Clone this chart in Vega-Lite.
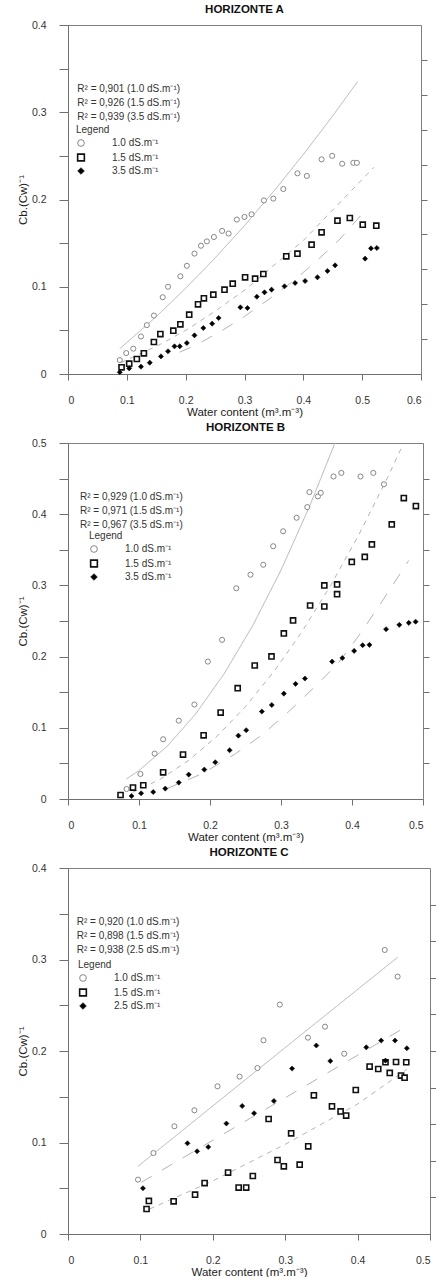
{
  "$schema": "https://vega.github.io/schema/vega-lite/v6.json",
  "padding": {"left": 16, "top": 3, "right": 0, "bottom": 0},
  "spacing": 2,
  "config": {
    "font": "Liberation Sans",
    "view": {"stroke": "#808080", "strokeWidth": 1},
    "axis": {"grid": false, "domainColor": "#707070", "tickColor": "#707070", "labelColor": "#333", "labelFontSize": 10.5, "titleFontSize": 11.5, "titleFontWeight": "normal", "titleColor": "#222", "labelFont": "Liberation Sans", "titleFont": "Liberation Sans"},
    "legend": {"symbolSize": 45, "labelFontSize": 10, "titleFontSize": 10, "titleFontWeight": "normal", "labelColor": "#333", "titleColor": "#333", "rowPadding": 1.5, "titlePadding": 3, "labelOffset": 26, "padding": 0, "labelFont": "Liberation Sans", "titleFont": "Liberation Sans"},
    "title": {"fontSize": 11.5, "fontWeight": "bold", "color": "#111", "offset": 4.5, "font": "Liberation Sans"}
  },
  "datasets": {
    "ptsA": [
      {"x":0.088,"y":0.016,"s":"1.0"},{"x":0.099,"y":0.024,"s":"1.0"},{"x":0.111,"y":0.029,"s":"1.0"},{"x":0.124,"y":0.043,"s":"1.0"},{"x":0.134,"y":0.056,"s":"1.0"},{"x":0.146,"y":0.067,"s":"1.0"},{"x":0.161,"y":0.088,"s":"1.0"},{"x":0.170,"y":0.100,"s":"1.0"},{"x":0.191,"y":0.112,"s":"1.0"},{"x":0.202,"y":0.124,"s":"1.0"},{"x":0.215,"y":0.138,"s":"1.0"},{"x":0.226,"y":0.147,"s":"1.0"},{"x":0.236,"y":0.152,"s":"1.0"},{"x":0.248,"y":0.157,"s":"1.0"},{"x":0.262,"y":0.164,"s":"1.0"},{"x":0.273,"y":0.161,"s":"1.0"},{"x":0.287,"y":0.177,"s":"1.0"},{"x":0.300,"y":0.180,"s":"1.0"},{"x":0.312,"y":0.183,"s":"1.0"},{"x":0.333,"y":0.199,"s":"1.0"},{"x":0.349,"y":0.201,"s":"1.0"},{"x":0.366,"y":0.212,"s":"1.0"},{"x":0.390,"y":0.230,"s":"1.0"},{"x":0.406,"y":0.227,"s":"1.0"},{"x":0.431,"y":0.246,"s":"1.0"},{"x":0.449,"y":0.250,"s":"1.0"},{"x":0.466,"y":0.241,"s":"1.0"},{"x":0.485,"y":0.242,"s":"1.0"},{"x":0.491,"y":0.242,"s":"1.0"},
      {"x":0.091,"y":0.0076,"s":"1.5"},{"x":0.104,"y":0.0118,"s":"1.5"},{"x":0.117,"y":0.0172,"s":"1.5"},{"x":0.129,"y":0.0237,"s":"1.5"},{"x":0.146,"y":0.0367,"s":"1.5"},{"x":0.157,"y":0.0458,"s":"1.5"},{"x":0.179,"y":0.0497,"s":"1.5"},{"x":0.191,"y":0.0569,"s":"1.5"},{"x":0.206,"y":0.068,"s":"1.5"},{"x":0.221,"y":0.0798,"s":"1.5"},{"x":0.231,"y":0.0867,"s":"1.5"},{"x":0.247,"y":0.0909,"s":"1.5"},{"x":0.266,"y":0.0967,"s":"1.5"},{"x":0.280,"y":0.1035,"s":"1.5"},{"x":0.301,"y":0.1108,"s":"1.5"},{"x":0.318,"y":0.1093,"s":"1.5"},{"x":0.332,"y":0.1146,"s":"1.5"},{"x":0.371,"y":0.1349,"s":"1.5"},{"x":0.390,"y":0.1379,"s":"1.5"},{"x":0.414,"y":0.1482,"s":"1.5"},{"x":0.431,"y":0.1624,"s":"1.5"},{"x":0.458,"y":0.1757,"s":"1.5"},{"x":0.479,"y":0.1788,"s":"1.5"},{"x":0.501,"y":0.1712,"s":"1.5"},{"x":0.524,"y":0.170,"s":"1.5"},
      {"x":0.088,"y":0.002,"s":"3.5"},{"x":0.104,"y":0.0065,"s":"3.5"},{"x":0.124,"y":0.0084,"s":"3.5"},{"x":0.139,"y":0.013,"s":"3.5"},{"x":0.158,"y":0.0202,"s":"3.5"},{"x":0.170,"y":0.026,"s":"3.5"},{"x":0.181,"y":0.0317,"s":"3.5"},{"x":0.190,"y":0.0317,"s":"3.5"},{"x":0.202,"y":0.0355,"s":"3.5"},{"x":0.215,"y":0.0443,"s":"3.5"},{"x":0.230,"y":0.0527,"s":"3.5"},{"x":0.245,"y":0.0577,"s":"3.5"},{"x":0.256,"y":0.0642,"s":"3.5"},{"x":0.293,"y":0.0764,"s":"3.5"},{"x":0.305,"y":0.0756,"s":"3.5"},{"x":0.321,"y":0.0886,"s":"3.5"},{"x":0.334,"y":0.0936,"s":"3.5"},{"x":0.346,"y":0.0967,"s":"3.5"},{"x":0.368,"y":0.1005,"s":"3.5"},{"x":0.386,"y":0.1043,"s":"3.5"},{"x":0.403,"y":0.1066,"s":"3.5"},{"x":0.424,"y":0.1108,"s":"3.5"},{"x":0.441,"y":0.1181,"s":"3.5"},{"x":0.454,"y":0.1245,"s":"3.5"},{"x":0.505,"y":0.1322,"s":"3.5"},{"x":0.515,"y":0.144,"s":"3.5"},{"x":0.525,"y":0.1444,"s":"3.5"}
    ],
    "fitA": [
      {"x":0.088,"y":0.029,"s":"1.0"},{"x":0.15,"y":0.0658,"s":"1.0"},{"x":0.2,"y":0.0982,"s":"1.0"},{"x":0.25,"y":0.133,"s":"1.0"},{"x":0.3,"y":0.1701,"s":"1.0"},{"x":0.35,"y":0.2097,"s":"1.0"},{"x":0.4,"y":0.2516,"s":"1.0"},{"x":0.45,"y":0.2959,"s":"1.0"},{"x":0.492,"y":0.335,"s":"1.0"},
      {"x":0.09,"y":0.013,"s":"1.5"},{"x":0.157,"y":0.034,"s":"1.5"},{"x":0.205,"y":0.052,"s":"1.5"},{"x":0.25,"y":0.072,"s":"1.5"},{"x":0.302,"y":0.097,"s":"1.5"},{"x":0.342,"y":0.12,"s":"1.5"},{"x":0.4,"y":0.153,"s":"1.5"},{"x":0.45,"y":0.188,"s":"1.5"},{"x":0.52,"y":0.237,"s":"1.5"},
      {"x":0.19,"y":0.025,"s":"3.5"},{"x":0.22,"y":0.034,"s":"3.5"},{"x":0.26,"y":0.049,"s":"3.5"},{"x":0.3,"y":0.066,"s":"3.5"},{"x":0.34,"y":0.085,"s":"3.5"},{"x":0.38,"y":0.105,"s":"3.5"},{"x":0.42,"y":0.128,"s":"3.5"},{"x":0.46,"y":0.153,"s":"3.5"},{"x":0.51,"y":0.191,"s":"3.5"}
    ],
    "ptsB": [
      {"x":0.0825,"y":0.0141,"s":"1.0"},{"x":0.102,"y":0.0351,"s":"1.0"},{"x":0.122,"y":0.0638,"s":"1.0"},{"x":0.134,"y":0.0839,"s":"1.0"},{"x":0.156,"y":0.110,"s":"1.0"},{"x":0.178,"y":0.1327,"s":"1.0"},{"x":0.197,"y":0.193,"s":"1.0"},{"x":0.217,"y":0.2235,"s":"1.0"},{"x":0.237,"y":0.296,"s":"1.0"},{"x":0.257,"y":0.315,"s":"1.0"},{"x":0.275,"y":0.329,"s":"1.0"},{"x":0.289,"y":0.355,"s":"1.0"},{"x":0.303,"y":0.376,"s":"1.0"},{"x":0.322,"y":0.395,"s":"1.0"},{"x":0.337,"y":0.410,"s":"1.0"},{"x":0.340,"y":0.431,"s":"1.0"},{"x":0.352,"y":0.425,"s":"1.0"},{"x":0.356,"y":0.430,"s":"1.0"},{"x":0.374,"y":0.453,"s":"1.0"},{"x":0.385,"y":0.458,"s":"1.0"},{"x":0.412,"y":0.453,"s":"1.0"},{"x":0.430,"y":0.458,"s":"1.0"},{"x":0.445,"y":0.442,"s":"1.0"},
      {"x":0.074,"y":0.0056,"s":"1.5"},{"x":0.0915,"y":0.016,"s":"1.5"},{"x":0.106,"y":0.0193,"s":"1.5"},{"x":0.134,"y":0.0375,"s":"1.5"},{"x":0.162,"y":0.0624,"s":"1.5"},{"x":0.191,"y":0.0895,"s":"1.5"},{"x":0.215,"y":0.1214,"s":"1.5"},{"x":0.239,"y":0.1556,"s":"1.5"},{"x":0.263,"y":0.1875,"s":"1.5"},{"x":0.2866,"y":0.2002,"s":"1.5"},{"x":0.304,"y":0.2325,"s":"1.5"},{"x":0.317,"y":0.2508,"s":"1.5"},{"x":0.341,"y":0.2718,"s":"1.5"},{"x":0.361,"y":0.2704,"s":"1.5"},{"x":0.361,"y":0.300,"s":"1.5"},{"x":0.379,"y":0.3014,"s":"1.5"},{"x":0.379,"y":0.2877,"s":"1.5"},{"x":0.3997,"y":0.333,"s":"1.5"},{"x":0.418,"y":0.340,"s":"1.5"},{"x":0.428,"y":0.3576,"s":"1.5"},{"x":0.456,"y":0.3857,"s":"1.5"},{"x":0.473,"y":0.4227,"s":"1.5"},{"x":0.490,"y":0.4114,"s":"1.5"},
      {"x":0.0895,"y":0.0042,"s":"3.5"},{"x":0.103,"y":0.008,"s":"3.5"},{"x":0.12,"y":0.0098,"s":"3.5"},{"x":0.137,"y":0.0146,"s":"3.5"},{"x":0.156,"y":0.023,"s":"3.5"},{"x":0.17,"y":0.0343,"s":"3.5"},{"x":0.192,"y":0.0413,"s":"3.5"},{"x":0.2074,"y":0.0516,"s":"3.5"},{"x":0.2276,"y":0.0685,"s":"3.5"},{"x":0.24,"y":0.089,"s":"3.5"},{"x":0.251,"y":0.0966,"s":"3.5"},{"x":0.273,"y":0.1228,"s":"3.5"},{"x":0.287,"y":0.132,"s":"3.5"},{"x":0.304,"y":0.148,"s":"3.5"},{"x":0.3205,"y":0.1617,"s":"3.5"},{"x":0.3337,"y":0.1692,"s":"3.5"},{"x":0.372,"y":0.193,"s":"3.5"},{"x":0.3864,"y":0.198,"s":"3.5"},{"x":0.403,"y":0.208,"s":"3.5"},{"x":0.415,"y":0.216,"s":"3.5"},{"x":0.4246,"y":0.2165,"s":"3.5"},{"x":0.448,"y":0.2385,"s":"3.5"},{"x":0.4666,"y":0.2446,"s":"3.5"},{"x":0.48,"y":0.2474,"s":"3.5"},{"x":0.4896,"y":0.249,"s":"3.5"}
    ],
    "fitB": [
      {"x":0.082,"y":0.028,"s":"1.0"},{"x":0.10,"y":0.040,"s":"1.0"},{"x":0.14,"y":0.0744,"s":"1.0"},{"x":0.18,"y":0.1197,"s":"1.0"},{"x":0.22,"y":0.176,"s":"1.0"},{"x":0.26,"y":0.2433,"s":"1.0"},{"x":0.30,"y":0.3214,"s":"1.0"},{"x":0.34,"y":0.4105,"s":"1.0"},{"x":0.376,"y":0.5,"s":"1.0"},
      {"x":0.091,"y":0.0094,"s":"1.5"},{"x":0.13,"y":0.0279,"s":"1.5"},{"x":0.17,"y":0.0543,"s":"1.5"},{"x":0.21,"y":0.0882,"s":"1.5"},{"x":0.25,"y":0.1298,"s":"1.5"},{"x":0.29,"y":0.179,"s":"1.5"},{"x":0.33,"y":0.2357,"s":"1.5"},{"x":0.37,"y":0.30,"s":"1.5"},{"x":0.41,"y":0.3719,"s":"1.5"},{"x":0.45,"y":0.4513,"s":"1.5"},{"x":0.47,"y":0.494,"s":"1.5"},
      {"x":0.138,"y":0.014,"s":"3.5"},{"x":0.19,"y":0.036,"s":"3.5"},{"x":0.235,"y":0.063,"s":"3.5"},{"x":0.272,"y":0.089,"s":"3.5"},{"x":0.31,"y":0.122,"s":"3.5"},{"x":0.345,"y":0.155,"s":"3.5"},{"x":0.38,"y":0.19,"s":"3.5"},{"x":0.41,"y":0.23,"s":"3.5"},{"x":0.44,"y":0.274,"s":"3.5"},{"x":0.48,"y":0.335,"s":"3.5"}
    ],
    "ptsC": [
      {"x":0.0967,"y":0.0594,"s":"1.0"},{"x":0.118,"y":0.0885,"s":"1.0"},{"x":0.147,"y":0.1177,"s":"1.0"},{"x":0.1746,"y":0.1352,"s":"1.0"},{"x":0.2065,"y":0.1614,"s":"1.0"},{"x":0.237,"y":0.172,"s":"1.0"},{"x":0.2617,"y":0.1814,"s":"1.0"},{"x":0.270,"y":0.2117,"s":"1.0"},{"x":0.2926,"y":0.2507,"s":"1.0"},{"x":0.3314,"y":0.2146,"s":"1.0"},{"x":0.355,"y":0.2266,"s":"1.0"},{"x":0.3815,"y":0.197,"s":"1.0"},{"x":0.4375,"y":0.3104,"s":"1.0"},{"x":0.4553,"y":0.2813,"s":"1.0"},
      {"x":0.1085,"y":0.0273,"s":"1.5"},{"x":0.1117,"y":0.0361,"s":"1.5"},{"x":0.1459,"y":0.0357,"s":"1.5"},{"x":0.1755,"y":0.043,"s":"1.5"},{"x":0.1887,"y":0.0557,"s":"1.5"},{"x":0.2211,"y":0.0671,"s":"1.5"},{"x":0.2357,"y":0.0507,"s":"1.5"},{"x":0.2461,"y":0.0507,"s":"1.5"},{"x":0.2553,"y":0.0634,"s":"1.5"},{"x":0.2771,"y":0.1257,"s":"1.5"},{"x":0.2894,"y":0.0809,"s":"1.5"},{"x":0.2981,"y":0.074,"s":"1.5"},{"x":0.3082,"y":0.110,"s":"1.5"},{"x":0.320,"y":0.0758,"s":"1.5"},{"x":0.3318,"y":0.0958,"s":"1.5"},{"x":0.3396,"y":0.1516,"s":"1.5"},{"x":0.3646,"y":0.1395,"s":"1.5"},{"x":0.3765,"y":0.134,"s":"1.5"},{"x":0.3842,"y":0.1294,"s":"1.5"},{"x":0.3975,"y":0.1574,"s":"1.5"},{"x":0.4166,"y":0.183,"s":"1.5"},{"x":0.4285,"y":0.1803,"s":"1.5"},{"x":0.4385,"y":0.1877,"s":"1.5"},{"x":0.4444,"y":0.176,"s":"1.5"},{"x":0.4531,"y":0.188,"s":"1.5"},{"x":0.46,"y":0.1731,"s":"1.5"},{"x":0.4649,"y":0.1709,"s":"1.5"},{"x":0.4672,"y":0.1877,"s":"1.5"},
      {"x":0.1035,"y":0.050,"s":"2.5"},{"x":0.165,"y":0.0991,"s":"2.5"},{"x":0.1783,"y":0.0904,"s":"2.5"},{"x":0.1937,"y":0.0951,"s":"2.5"},{"x":0.2188,"y":0.1207,"s":"2.5"},{"x":0.2406,"y":0.1399,"s":"2.5"},{"x":0.257,"y":0.132,"s":"2.5"},{"x":0.2844,"y":0.1454,"s":"2.5"},{"x":0.3095,"y":0.1808,"s":"2.5"},{"x":0.343,"y":0.206,"s":"2.5"},{"x":0.3623,"y":0.189,"s":"2.5"},{"x":0.412,"y":0.204,"s":"2.5"},{"x":0.4326,"y":0.2114,"s":"2.5"},{"x":0.4385,"y":0.1895,"s":"2.5"},{"x":0.4517,"y":0.2114,"s":"2.5"},{"x":0.468,"y":0.203,"s":"2.5"}
    ],
    "fitC": [
      {"x":0.0967,"y":0.074,"s":"1.0"},{"x":0.28,"y":0.191,"s":"1.0"},{"x":0.4553,"y":0.3024,"s":"1.0"},
      {"x":0.1127,"y":0.0273,"s":"1.5"},{"x":0.2,"y":0.058,"s":"1.5"},{"x":0.3,"y":0.098,"s":"1.5"},{"x":0.4,"y":0.142,"s":"1.5"},{"x":0.468,"y":0.18,"s":"1.5"},
      {"x":0.1012,"y":0.0565,"s":"2.5"},{"x":0.28,"y":0.1396,"s":"2.5"},{"x":0.468,"y":0.227,"s":"2.5"}
    ]
  },
  "resolve": {
    "scale": {"x": "independent", "y": "independent", "shape": "independent", "fill": "independent", "stroke": "independent", "strokeWidth": "independent", "strokeDash": "independent"},
    "legend": {"shape": "independent", "fill": "independent", "stroke": "independent", "strokeWidth": "independent"}
  },
  "vconcat": [
    {
      "title": {"text": "HORIZONTE A"},
      "width": 353, "height": 349,
      "resolve": {"axis": {"y": "independent"}},
      "layer": [
        {
          "data": {"name": "fitA"},
          "mark": {"type": "line", "stroke": "#b4b4b4", "strokeWidth": 1},
          "encoding": {
            "x": {"field": "x", "type": "quantitative", "scale": {"domain": [0, 0.6], "nice": false}},
            "y": {"field": "y", "type": "quantitative", "scale": {"domain": [0, 0.4], "nice": false}, "axis": {"orient": "right", "values": [0.04,0.08,0.12,0.16,0.2,0.24,0.28,0.32,0.36], "labels": false, "title": null, "domain": false, "tickSize": 6}},
            "strokeDash": {"field": "s", "type": "nominal", "scale": {"range": [[1,0],[5,5],[12,12]]}, "legend": null}
          }
        },
        {
          "data": {"name": "ptsA"},
          "mark": {"type": "point", "filled": true, "opacity": 1, "size": 26},
          "encoding": {
            "x": {"field": "x", "type": "quantitative", "scale": {"domain": [0, 0.6], "nice": false}, "axis": {"title": "Water content (m³.m⁻³)", "values": [0,0.05,0.1,0.15,0.2,0.25,0.3,0.35,0.4,0.45,0.5,0.55,0.6], "labelExpr": "abs(datum.value*10 - round(datum.value*10)) < 0.01 ? (datum.value == 0 ? '0' : format(datum.value, '.1f')) : ''", "tickSize": 6, "labelPadding": 15, "titlePadding": 1}},
            "y": {"field": "y", "type": "quantitative", "scale": {"domain": [0, 0.4], "nice": false}, "axis": {"title": "Cb.(Cw)⁻¹", "values": [0,0.05,0.1,0.15,0.2,0.25,0.3,0.35,0.4], "labelExpr": "abs(datum.value*10 - round(datum.value*10)) < 0.01 ? (datum.value == 0 ? '0' : format(datum.value, '.1f')) : ''", "tickSize": 9, "labelPadding": 13, "titlePadding": 3}},
            "shape": {"field": "s", "type": "nominal", "scale": {"domain": ["1.0","1.5","3.5"], "range": ["circle","square","diamond"]}, "legend": {"title": "Legend", "orient": "none", "legendX": 8, "legendY": 100, "labelExpr": "datum.label + ' dS.m⁻¹'", "encode": {"title": {"update": {"dx": {"value": 11}}}}}},
            "fill": {"field": "s", "type": "nominal", "scale": {"domain": ["1.0","1.5","3.5"], "range": ["#ffffff","#ffffff","#000000"]}, "legend": {"title": "Legend", "orient": "none", "legendX": 8, "legendY": 100, "labelExpr": "datum.label + ' dS.m⁻¹'", "encode": {"title": {"update": {"dx": {"value": 11}}}}}},
            "stroke": {"field": "s", "type": "nominal", "scale": {"domain": ["1.0","1.5","3.5"], "range": ["#7a7a7a","#111111","#111111"]}, "legend": {"title": "Legend", "orient": "none", "legendX": 8, "legendY": 100, "labelExpr": "datum.label + ' dS.m⁻¹'", "encode": {"title": {"update": {"dx": {"value": 11}}}}}},
            "strokeWidth": {"field": "s", "type": "nominal", "scale": {"type": "ordinal", "domain": ["1.0","1.5","3.5"], "range": [0.9,1.6,0.6]}, "legend": {"title": "Legend", "orient": "none", "legendX": 8, "legendY": 100, "labelExpr": "datum.label + ' dS.m⁻¹'", "encode": {"title": {"update": {"dx": {"value": 11}}}}}}
          }
        },
        {
          "data": {"values": [{}]},
          "mark": {"type": "text", "align": "left", "baseline": "middle", "fontSize": 10, "lineHeight": 14, "color": "#333"},
          "encoding": {
            "x": {"datum": 0.0158, "type": "quantitative"},
            "y": {"datum": 0.3266, "type": "quantitative", "axis": null},
            "text": {"value": ["R² = 0,901 (1.0 dS.m⁻¹)", "R² = 0,926 (1.5 dS.m⁻¹)", "R² = 0,939 (3.5 dS.m⁻¹)"]}
          }
        }
      ]
    },
    {
      "title": {"text": "HORIZONTE B"},
      "width": 355, "height": 356,
      "resolve": {"axis": {"y": "independent"}},
      "layer": [
        {
          "data": {"name": "fitB"},
          "mark": {"type": "line", "stroke": "#b4b4b4", "strokeWidth": 1},
          "encoding": {
            "x": {"field": "x", "type": "quantitative", "scale": {"domain": [0, 0.5], "nice": false}},
            "y": {"field": "y", "type": "quantitative", "scale": {"domain": [0, 0.5], "nice": false}, "axis": {"orient": "right", "values": [0.05,0.1,0.15,0.2,0.25,0.3,0.35,0.4,0.45], "labels": false, "title": null, "domain": false, "tickSize": 6}},
            "strokeDash": {"field": "s", "type": "nominal", "scale": {"range": [[1,0],[5,5],[12,12]]}, "legend": null}
          }
        },
        {
          "data": {"name": "ptsB"},
          "mark": {"type": "point", "filled": true, "opacity": 1, "size": 26},
          "encoding": {
            "x": {"field": "x", "type": "quantitative", "scale": {"domain": [0, 0.5], "nice": false}, "axis": {"title": "Water content (m³.m⁻³)", "values": [0,0.05,0.1,0.15,0.2,0.25,0.3,0.35,0.4,0.45,0.5], "labelExpr": "abs(datum.value*10 - round(datum.value*10)) < 0.01 ? (datum.value == 0 ? '0' : format(datum.value, '.1f')) : ''", "tickSize": 6, "labelPadding": 15, "titlePadding": 1}},
            "y": {"field": "y", "type": "quantitative", "scale": {"domain": [0, 0.5], "nice": false}, "axis": {"title": "Cb.(Cw)⁻¹", "values": [0,0.05,0.1,0.15,0.2,0.25,0.3,0.35,0.4,0.45,0.5], "labelExpr": "abs(datum.value*10 - round(datum.value*10)) < 0.01 ? (datum.value == 0 ? '0' : format(datum.value, '.1f')) : ''", "tickSize": 9, "labelPadding": 13, "titlePadding": 3}},
            "shape": {"field": "s", "type": "nominal", "scale": {"domain": ["1.0","1.5","3.5"], "range": ["circle","square","diamond"]}, "legend": {"title": "Legend", "orient": "none", "legendX": 21, "legendY": 88, "labelExpr": "datum.label + ' dS.m⁻¹'", "encode": {"title": {"update": {"dx": {"value": 11}}}}}},
            "fill": {"field": "s", "type": "nominal", "scale": {"domain": ["1.0","1.5","3.5"], "range": ["#ffffff","#ffffff","#000000"]}, "legend": {"title": "Legend", "orient": "none", "legendX": 21, "legendY": 88, "labelExpr": "datum.label + ' dS.m⁻¹'", "encode": {"title": {"update": {"dx": {"value": 11}}}}}},
            "stroke": {"field": "s", "type": "nominal", "scale": {"domain": ["1.0","1.5","3.5"], "range": ["#7a7a7a","#111111","#111111"]}, "legend": {"title": "Legend", "orient": "none", "legendX": 21, "legendY": 88, "labelExpr": "datum.label + ' dS.m⁻¹'", "encode": {"title": {"update": {"dx": {"value": 11}}}}}},
            "strokeWidth": {"field": "s", "type": "nominal", "scale": {"type": "ordinal", "domain": ["1.0","1.5","3.5"], "range": [0.9,1.6,0.6]}, "legend": {"title": "Legend", "orient": "none", "legendX": 21, "legendY": 88, "labelExpr": "datum.label + ' dS.m⁻¹'", "encode": {"title": {"update": {"dx": {"value": 11}}}}}}
          }
        },
        {
          "data": {"values": [{}]},
          "mark": {"type": "text", "align": "left", "baseline": "middle", "fontSize": 10, "lineHeight": 14, "color": "#333"},
          "encoding": {
            "x": {"datum": 0.0169, "type": "quantitative"},
            "y": {"datum": 0.4247, "type": "quantitative", "axis": null},
            "text": {"value": ["R² = 0,929 (1.0 dS.m⁻¹)", "R² = 0,971 (1.5 dS.m⁻¹)", "R² = 0,967 (3.5 dS.m⁻¹)"]}
          }
        }
      ]
    },
    {
      "title": {"text": "HORIZONTE C"},
      "width": 362, "height": 366,
      "resolve": {"axis": {"y": "independent"}},
      "layer": [
        {
          "data": {"name": "fitC"},
          "mark": {"type": "line", "stroke": "#b4b4b4", "strokeWidth": 1},
          "encoding": {
            "x": {"field": "x", "type": "quantitative", "scale": {"domain": [0, 0.5], "nice": false}},
            "y": {"field": "y", "type": "quantitative", "scale": {"domain": [0, 0.4], "nice": false}, "axis": {"orient": "right", "values": [0.04,0.08,0.12,0.16,0.2,0.24,0.28,0.32,0.36], "labels": false, "title": null, "domain": false, "tickSize": 6}},
            "strokeDash": {"field": "s", "type": "nominal", "scale": {"range": [[1,0],[5,5],[12,12]]}, "legend": null}
          }
        },
        {
          "data": {"name": "ptsC"},
          "mark": {"type": "point", "filled": true, "opacity": 1, "size": 26},
          "encoding": {
            "x": {"field": "x", "type": "quantitative", "scale": {"domain": [0, 0.5], "nice": false}, "axis": {"title": "Water content (m³.m⁻³)", "values": [0,0.05,0.1,0.15,0.2,0.25,0.3,0.35,0.4,0.45,0.5], "labelExpr": "abs(datum.value*10 - round(datum.value*10)) < 0.01 ? (datum.value == 0 ? '0' : format(datum.value, '.1f')) : ''", "tickSize": 6, "labelPadding": 15, "titlePadding": 1}},
            "y": {"field": "y", "type": "quantitative", "scale": {"domain": [0, 0.4], "nice": false}, "axis": {"title": "Cb.(Cw)⁻¹", "values": [0,0.05,0.1,0.15,0.2,0.25,0.3,0.35,0.4], "labelExpr": "abs(datum.value*10 - round(datum.value*10)) < 0.01 ? (datum.value == 0 ? '0' : format(datum.value, '.1f')) : ''", "tickSize": 9, "labelPadding": 13, "titlePadding": 3}},
            "shape": {"field": "s", "type": "nominal", "scale": {"domain": ["1.0","1.5","2.5"], "range": ["circle","square","diamond"]}, "legend": {"title": "Legend", "orient": "none", "legendX": 10, "legendY": 92, "labelExpr": "datum.label + ' dS.m⁻¹'", "encode": {"title": {"update": {"dx": {"value": 11}}}}}},
            "fill": {"field": "s", "type": "nominal", "scale": {"domain": ["1.0","1.5","2.5"], "range": ["#ffffff","#ffffff","#000000"]}, "legend": {"title": "Legend", "orient": "none", "legendX": 10, "legendY": 92, "labelExpr": "datum.label + ' dS.m⁻¹'", "encode": {"title": {"update": {"dx": {"value": 11}}}}}},
            "stroke": {"field": "s", "type": "nominal", "scale": {"domain": ["1.0","1.5","2.5"], "range": ["#7a7a7a","#111111","#111111"]}, "legend": {"title": "Legend", "orient": "none", "legendX": 10, "legendY": 92, "labelExpr": "datum.label + ' dS.m⁻¹'", "encode": {"title": {"update": {"dx": {"value": 11}}}}}},
            "strokeWidth": {"field": "s", "type": "nominal", "scale": {"type": "ordinal", "domain": ["1.0","1.5","2.5"], "range": [0.9,1.6,0.6]}, "legend": {"title": "Legend", "orient": "none", "legendX": 10, "legendY": 92, "labelExpr": "datum.label + ' dS.m⁻¹'", "encode": {"title": {"update": {"dx": {"value": 11}}}}}}
          }
        },
        {
          "data": {"values": [{}]},
          "mark": {"type": "text", "align": "left", "baseline": "middle", "fontSize": 10, "lineHeight": 14, "color": "#333"},
          "encoding": {
            "x": {"datum": 0.012, "type": "quantitative"},
            "y": {"datum": 0.3414, "type": "quantitative", "axis": null},
            "text": {"value": ["R² = 0,920 (1.0 dS.m⁻¹)", "R² = 0,898 (1.5 dS.m⁻¹)", "R² = 0,938 (2.5 dS.m⁻¹)"]}
          }
        }
      ]
    }
  ]
}
